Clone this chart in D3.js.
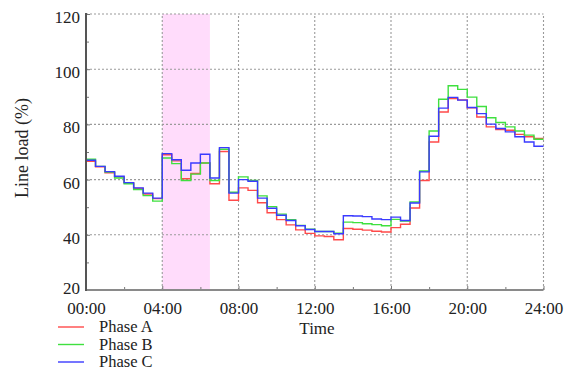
<!DOCTYPE html>
<html>
<head>
<meta charset="utf-8">
<script src="https://cdn.jsdelivr.net/npm/d3@7"></script>
<style>
  html, body { margin: 0; padding: 0; background: #fff; }
  svg text { font-family: "Liberation Serif", "Times New Roman", serif; fill: #222; }
</style>
</head>
<body>
<svg id="chart" width="573" height="372"></svg>
<script>
// ---- data (half-hour steps, 00:00 .. 23:30) ----
const hours = d3.range(0, 24, 0.5);
const phaseA = [66.6, 64.6, 62.5, 61.0, 58.8, 56.8, 54.8, 53.1,
  69.0, 66.8, 60.3, 62.2, 66.0, 58.5, 70.2, 52.5,
  57.0, 56.1, 51.6, 48.0, 45.5, 43.6, 41.8, 40.5,
  39.6, 39.4, 38.2, 42.3, 42.0, 41.7, 41.3, 41.0,
  42.6, 43.8, 49.7, 59.7, 73.6, 84.5, 89.4, 88.9,
  86.0, 82.7, 79.1, 78.1, 77.9, 76.4, 75.5, 74.9];
const phaseB = [67.4, 64.8, 62.7, 60.6, 58.5, 56.4, 54.2, 52.2,
  67.8, 65.8, 59.7, 62.0, 66.0, 59.7, 71.0, 55.4,
  61.0, 59.7, 54.1, 50.2, 47.5, 45.5, 43.4, 42.0,
  41.2, 41.2, 40.6, 44.6, 44.4, 44.0, 43.7, 43.3,
  45.6, 45.0, 51.9, 63.1, 77.6, 89.1, 94.0, 92.7,
  89.9, 86.5, 82.4, 80.7, 79.1, 77.6, 76.1, 74.6];
const phaseC = [67.0, 64.8, 62.9, 61.2, 58.9, 57.0, 55.1, 53.3,
  69.4, 67.2, 63.4, 66.0, 69.2, 60.6, 71.6, 55.1,
  60.0, 59.4, 53.3, 49.6, 47.1, 45.2, 43.3, 41.9,
  41.2, 41.2, 40.4, 46.9, 46.8, 46.6, 45.7, 45.5,
  46.4, 45.2, 51.5, 62.8, 75.7, 85.9, 89.8, 88.8,
  86.1, 83.9, 80.1, 78.5, 77.3, 75.5, 73.6, 72.1];
const seriesNames = ["Phase A", "Phase B", "Phase C"];
const seriesColors = ["#ff4a4a", "#3fe03f", "#3a3aff"];
const xTicks = [0, 4, 8, 12, 16, 20, 24];
const xTickLabels = ["00:00", "04:00", "08:00", "12:00", "16:00", "20:00", "24:00"];
const yTicks = [20, 40, 60, 80, 100, 120];
const highlight = [4, 6.5];

// ---- layout ----
const svg = d3.select("#chart");
const L = 86, R = 543.5, T = 14, B = 290;
const x = d3.scaleLinear().domain([0, 24]).range([L, R]);
const y = d3.scaleLinear().domain([20, 120]).range([B, T]);

// highlight band
svg.append("rect")
  .attr("x", x(highlight[0])).attr("y", y(120))
  .attr("width", x(highlight[1]) - x(highlight[0]))
  .attr("height", y(20) - y(120))
  .attr("fill", "#ffdcfb");

// grid
const grid = svg.append("g").attr("stroke", "#9a9a9a").attr("stroke-width", 1.1)
  .attr("stroke-dasharray", "2,2");
xTicks.slice(1).forEach(t => grid.append("line")
  .attr("x1", x(t)).attr("x2", x(t)).attr("y1", y(20)).attr("y2", y(120)));
yTicks.slice(1).forEach(t => grid.append("line")
  .attr("x1", x(0)).attr("x2", x(24)).attr("y1", y(t)).attr("y2", y(t)));

// lines
const allSeries = [phaseA, phaseB, phaseC];
const line = d3.line().x(d => x(d[0])).y(d => y(d[1])).curve(d3.curveStepAfter);
allSeries.forEach((s, i) => {
  const pts = hours.map((h, j) => [h, s[j]]);
  pts.push([24, s[s.length - 1]]);
  svg.append("path").datum(pts)
    .attr("d", line).attr("fill", "none")
    .attr("stroke", seriesColors[i]).attr("stroke-width", 1.4);
});

// axes
const yAxis = d3.axisLeft(y).tickValues(yTicks).tickSize(-4).tickPadding(6);
const gy = svg.append("g").attr("transform", `translate(${L},0)`).call(yAxis);
gy.select(".domain").remove();
gy.selectAll("text").attr("font-size", 17).attr("dy", d => d === 20 ? "0.2em" : "0.5em");
gy.selectAll(".tick line").attr("stroke", "#777");
const yMinor = d3.axisLeft(y).tickValues(d3.range(30, 120, 20)).tickSize(-3).tickFormat("");
const gym = svg.append("g").attr("transform", `translate(${L},0)`).call(yMinor);
gym.select(".domain").remove();
gym.selectAll(".tick line").attr("stroke", "#777");

const xAxis = d3.axisBottom(x).tickValues(xTicks).tickSize(-4).tickPadding(12)
  .tickFormat((d, i) => xTickLabels[i]);
const gx = svg.append("g").attr("transform", `translate(0,${B})`).call(xAxis);
gx.select(".domain").remove();
gx.selectAll("text").attr("font-size", 17);
gx.selectAll(".tick line").attr("stroke", "#777");
const xMinor = d3.axisBottom(x).tickValues(d3.range(2, 24, 4)).tickSize(-3).tickFormat("");
const gxm = svg.append("g").attr("transform", `translate(0,${B})`).call(xMinor);
gxm.select(".domain").remove();
gxm.selectAll(".tick line").attr("stroke", "#777");

// axis lines
svg.append("line").attr("x1", L).attr("x2", R).attr("y1", B).attr("y2", B)
  .attr("stroke", "#8a8a8a").attr("stroke-width", 2);
svg.append("line").attr("x1", L).attr("x2", L).attr("y1", T - 1).attr("y2", B + 1)
  .attr("stroke", "#555").attr("stroke-width", 2);

// axis titles
svg.append("text").attr("transform", `translate(28,${(T + B) / 2 - 4}) rotate(-90)`)
  .attr("text-anchor", "middle").attr("font-size", 18).text("Line load (%)");
svg.append("text").attr("x", 317).attr("y", 334)
  .attr("text-anchor", "middle").attr("font-size", 17).text("Time");

// legend
seriesNames.forEach((n, i) => {
  const yy = 327 + i * 17.5;
  svg.append("line").attr("x1", 58).attr("x2", 84).attr("y1", yy).attr("y2", yy)
    .attr("stroke", seriesColors[i]).attr("stroke-width", 1.4);
  svg.append("text").attr("x", 99).attr("y", yy + 5).attr("font-size", 16.5).text(n);
});
</script>
</body>
</html>
